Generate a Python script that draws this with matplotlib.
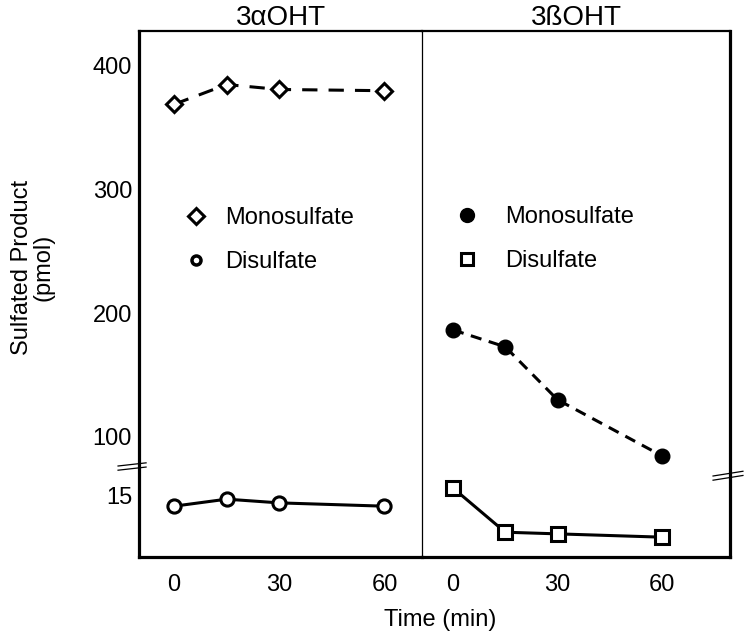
import numpy as np
import matplotlib
matplotlib.use("Agg")
import matplotlib.pyplot as plt
from matplotlib.lines import Line2D

plt.rcParams['font.family'] = ['Liberation Sans', 'DejaVu Sans']
plt.rcParams['lines.scale_dashes'] = False

# ---- data ----
time_min = [0, 15, 30, 60]
alpha_mono = [369, 385, 381, 380]
alpha_di = [12.3, 14.0, 13.1, 12.3]
beta_mono = [186.5, 172.8, 130, 84.6]
beta_di = [16.7, 6.0, 5.6, 4.8]
xticks = [0, 30, 60]
yticks = [15, 100, 200, 300, 400]
ytick_labels = ["15", "100", "200", "300", "400"]
panel_titles = ["3\u03b1OHT", "3\u00dfOHT"]
legend_labels = ["Monosulfate", "Disulfate"]

# ---- broken (piecewise linear) y scale ----
A, B1 = 4.133, 21.8      # lower segment
C, B2 = 1.2367, 75.7     # upper segment
S = 0.001
Y1 = A * B1
Y2 = Y1 + S * (B2 - B1)

def fwd(v):
    v = np.asarray(v, dtype=float)
    return np.where(v <= B1, v * A,
                    np.where(v >= B2, Y2 + C * (v - B2), Y1 + S * (v - B1)))

def inv(y):
    y = np.asarray(y, dtype=float)
    return np.where(y <= Y1, y / A,
                    np.where(y >= Y2, B2 + (y - Y2) / C, B1 + (y - Y1) / S))

W, H = 748, 642
fig = plt.figure(figsize=(W / 100, H / 100), dpi=100)
bot = (H - 557) / H
hgt = 526 / H
ax1 = fig.add_axes([139 / W, bot, 283 / W, hgt])
ax2 = fig.add_axes([422 / W, bot, 308 / W, hgt])
ax2.set_facecolor('none')

FS = 17
for ax in (ax1, ax2):
    ax.set_yscale('function', functions=(fwd, inv))
    ax.set_ylim(0, 428.3)
    ax.set_xticks(xticks)
    ax.set_xticklabels([str(t) for t in xticks])
    ax.tick_params(axis='both', length=0, labelsize=FS)
    ax.tick_params(axis='x', pad=12)
    for s in ax.spines.values():
        s.set_color('black')
ax1.set_xlim(-10, 70.7)
ax2.set_xlim(-8.9, 79.5)

ax1.set_yticks(yticks)
ax1.set_yticklabels(ytick_labels)
ax1.tick_params(axis='y', pad=5)
ax1.yaxis.set_minor_locator(matplotlib.ticker.NullLocator())
ax2.set_yticks([])
ax2.yaxis.set_minor_locator(matplotlib.ticker.NullLocator())

ax1.spines['left'].set_linewidth(2.3)
ax1.spines['bottom'].set_linewidth(2.3)
ax1.spines['top'].set_linewidth(1.6)
ax1.spines['right'].set_visible(False)
ax2.spines['left'].set_linewidth(0.9)
ax2.spines['bottom'].set_linewidth(2.3)
ax2.spines['top'].set_linewidth(1.6)
ax2.spines['right'].set_linewidth(2.3)

LW = 2.2
# 3alpha
m1, = ax1.plot(time_min, alpha_mono, color='black', lw=LW, dashes=(11, 8),
               marker='D', ms=8.5, mfc='white', mec='black', mew=2.2, zorder=3)
d1, = ax1.plot(time_min, alpha_di, color='black', lw=LW,
               marker='o', ms=9.5, mfc='white', mec='black', mew=2.2, zorder=3)
# 3beta
m2, = ax2.plot(time_min, beta_mono, color='black', lw=LW, dashes=(8, 5.5),
               marker='o', ms=10.5, mfc='black', mec='black', zorder=3)
d2, = ax2.plot(time_min, beta_di, color='black', lw=LW,
               marker='s', ms=10, mfc='white', mec='black', mew=2.2, zorder=3)

for ax, t in zip((ax1, ax2), panel_titles):
    ax.set_title(t, fontsize=20, pad=3)

h1 = [Line2D([], [], ls='none', marker='D', ms=8, mfc='white', mec='black', mew=2.2),
      Line2D([], [], ls='none', marker='o', ms=6.5, mfc='white', mec='black', mew=2.5)]
h2 = [Line2D([], [], ls='none', marker='o', ms=10, mfc='black', mec='black'),
      Line2D([], [], ls='none', marker='s', ms=9, mfc='white', mec='black', mew=2.2)]
ax1.legend(h1, legend_labels, loc='center left', bbox_to_anchor=(0.201, 0.6027),
           frameon=False, handlelength=0, handletextpad=1.25, labelspacing=0.95,
           borderpad=0, borderaxespad=0, fontsize=FS)
ax2.legend(h2, legend_labels, loc='center left', bbox_to_anchor=(0.146, 0.6046),
           frameon=False, handlelength=0, handletextpad=1.6, labelspacing=0.95,
           borderpad=0, borderaxespad=0, fontsize=FS)

# break marks
for dy in (0.0, 0.008):
    ax1.plot([-0.074, 0.025], [0.165 + dy, 0.171 + dy], transform=ax1.transAxes,
             color='black', lw=0.9, clip_on=False)
    ax2.plot([0.945, 1.042], [0.146 + dy, 0.155 + dy], transform=ax2.transAxes,
             color='black', lw=0.9, clip_on=False)

fig.text(440 / W, 1 - 620 / H, "Time (min)", ha='center', va='center', fontsize=FS)
fig.text(33 / W, 1 - 267 / H, "Sulfated Product\n(pmol)", ha='center', va='center',
         rotation=90, fontsize=FS, linespacing=0.95, multialignment='center')

fig.savefig("out.png", dpi=100)
